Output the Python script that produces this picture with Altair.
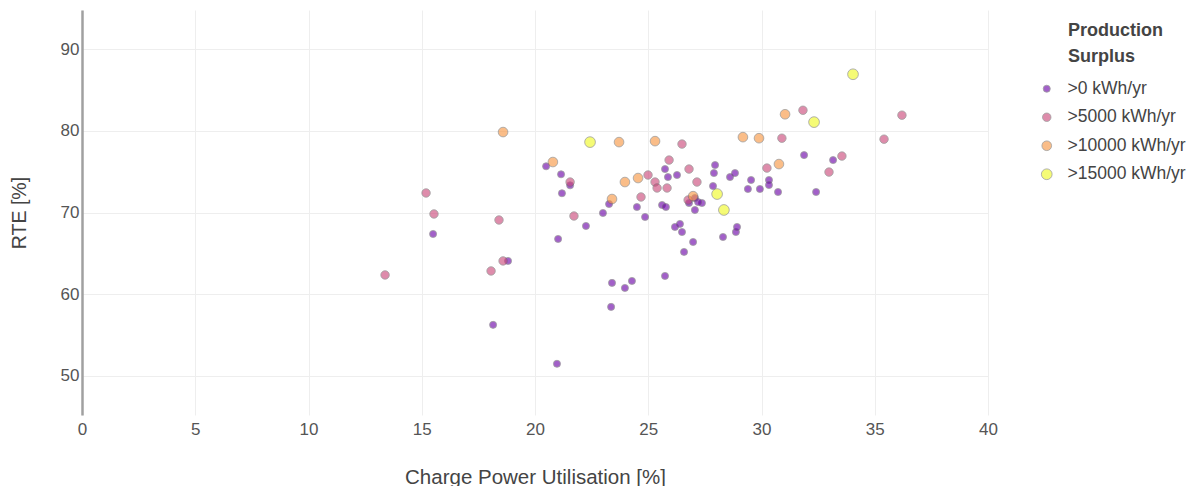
import altair as alt
import pandas as pd

categories = [">0 kWh/yr", ">5000 kWh/yr", ">10000 kWh/yr", ">15000 kWh/yr"]
cat_colors = ["#6a00a8", "#cb4679", "#f89540", "#f0f921"]
cat_sizes = [50, 115, 185, 245]

util_0 = [20.49, 21.15, 21.19, 21.55, 21.02, 22.25, 23.0, 23.27, 23.4, 23.97, 24.28, 23.36, 25.74,
          24.5, 24.86, 25.61, 25.78, 25.74, 26.27, 25.87, 26.18, 26.4, 26.49, 26.58, 26.98, 28.3,
          28.87, 28.92, 27.95, 27.9, 27.86, 28.61, 28.83, 29.54, 29.4, 29.93, 30.33, 30.33, 30.73,
          31.88, 33.16, 32.41, 27.37, 27.2, 27.06, 26.8, 15.5, 18.81, 18.15, 20.97, 27.06]
rte_0 = [75.66, 74.68, 72.36, 73.33, 66.76, 68.35, 69.94, 71.04, 61.38, 60.76, 61.62, 58.44, 62.23,
         70.67, 69.45, 70.92, 70.67, 75.32, 74.59, 74.34, 68.23, 68.6, 67.61, 65.17, 66.39, 67.0,
         67.61, 68.23, 75.81, 74.83, 73.24, 74.34, 74.83, 73.98, 72.88, 72.88, 73.98, 73.36, 72.51,
         77.03, 76.42, 72.51, 71.16, 71.28, 70.31, 71.16, 67.37, 64.07, 56.24, 51.47, 71.77]

util_5000 = [13.38, 15.19, 15.54, 18.41, 18.06, 18.59, 21.55, 21.72, 24.68, 24.99, 25.3, 25.39, 25.83,
             25.92, 26.49, 26.8, 27.15, 30.24, 30.9, 31.83, 33.55, 32.98, 35.41, 36.2, 26.76]
rte_5000 = [62.35, 72.39, 69.82, 69.08, 62.84, 64.07, 73.73, 69.57, 71.9, 74.59, 73.73, 73.0, 73.0,
            76.42, 78.38, 75.32, 73.73, 75.44, 79.1, 82.52, 76.91, 74.95, 78.98, 81.92, 71.53]

util_10000 = [18.59, 20.79, 23.71, 25.3, 23.4, 23.97, 24.55, 26.98, 29.18, 29.89, 31.04, 30.77]
rte_10000 = [79.85, 76.18, 78.62, 78.74, 71.65, 73.73, 74.22, 72.0, 79.23, 79.1, 82.03, 75.93]

util_15000 = [22.43, 34.04, 32.32, 28.04, 28.34]
rte_15000 = [78.62, 86.93, 81.07, 72.26, 70.31]

legend_title = ["Production", "Surplus"]

groups = [(util_0, rte_0), (util_5000, rte_5000), (util_10000, rte_10000), (util_15000, rte_15000)]
rows = []
for order, (cat, (us, rs)) in enumerate(zip(categories, groups)):
    for u, r in zip(us, rs):
        rows.append({"util": u, "rte": r, "surplus": cat, "order": order})
df = pd.DataFrame(rows)
title_df = pd.DataFrame({"line": legend_title, "ypos": [21, 47]})

FONT = "Liberation Sans"

points = alt.Chart(df).mark_circle(opacity=0.62, stroke="#666666", strokeWidth=0.8).encode(
    x=alt.X("util:Q", title="Charge Power Utilisation [%]",
            scale=alt.Scale(domain=[0, 40], nice=False, zero=False),
            axis=alt.Axis(values=[0, 5, 10, 15, 20, 25, 30, 35, 40], domain=False, ticks=False,
                          labelFlush=False,
                          labelFontSize=17, labelColor="#555555", labelFont=FONT, labelPadding=6,
                          titleFontSize=20.5, titleColor="#444444", titleFont=FONT,
                          titleFontWeight="normal", titlePadding=30,
                          gridColor="#eeeeee", gridWidth=1)),
    y=alt.Y("rte:Q", title="RTE [%]",
            scale=alt.Scale(domain=[45.2, 94.8], nice=False, zero=False),
            axis=alt.Axis(values=[50, 60, 70, 80, 90], domain=True, domainColor="#a0a0a0",
                          domainWidth=2.5, ticks=False, labelFlush=False,
                          labelFontSize=17, labelColor="#555555", labelFont=FONT, labelPadding=3,
                          titleFontSize=19.5, titleColor="#444444", titleFont=FONT,
                          titleFontWeight="normal", titlePadding=31,
                          gridColor="#eeeeee", gridWidth=1)),
    color=alt.Color("surplus:N", sort=categories,
                    scale=alt.Scale(domain=categories, range=cat_colors),
                    legend=alt.Legend(title=None, orient="none", legendX=956, legendY=70,
                                      symbolType="circle", symbolOpacity=0.62,
                                      symbolStrokeColor="#666666", symbolStrokeWidth=0.8,
                                      labelFontSize=17.5, labelFont=FONT, labelColor="#444444",
                                      labelOffset=12, rowPadding=9.5, labelLimit=200)),
    size=alt.Size("surplus:N", sort=categories,
                  scale=alt.Scale(domain=categories, range=cat_sizes), legend=None),
    order=alt.Order("order:Q"),
)

legend_head = alt.Chart(title_df).mark_text(
    align="left", baseline="middle", font=FONT, fontSize=18, fontWeight="bold", color="#444444"
).encode(
    x=alt.value(986),
    y=alt.Y("ypos:Q", scale=None),
    text="line:N",
)

chart = alt.layer(points, legend_head).properties(
    width=906, height=405,
    background="white",
    autosize=alt.AutoSizeParams(type="none"),
    padding={"left": 74, "top": 2, "right": 202, "bottom": 71},
).configure_view(stroke=None)

chart.save("out.html", embed_options={"renderer": "svg", "actions": False})
